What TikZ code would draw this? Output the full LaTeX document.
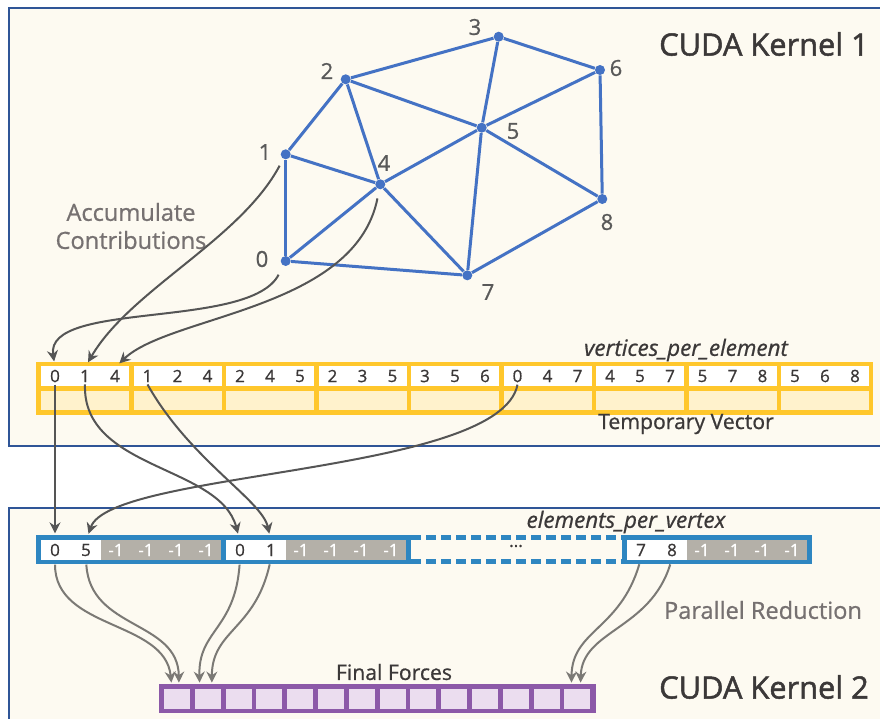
\documentclass[tikz,border=0pt]{standalone}
\usepackage{fontspec}
\setmainfont{Open Sans}[FakeBold=0.8]
\newfontfamily\kernelfont{Open Sans}[FakeBold=1.6]
\usetikzlibrary{arrows.meta}

\definecolor{kbg}{HTML}{FDFAF1}
\definecolor{kborder}{HTML}{2F5597}
\definecolor{meshblue}{HTML}{4472C4}
\definecolor{tvyellow}{HTML}{FFC72C}
\definecolor{tvlight}{HTML}{FFF2CC}
\definecolor{epvblue}{HTML}{2E86C1}
\definecolor{epvgray}{HTML}{B4B0A8}
\definecolor{ffpurple}{HTML}{8C59A8}
\definecolor{fflight}{HTML}{EBDDEF}
\definecolor{txtdark}{HTML}{3B3838}
\definecolor{txtgray}{HTML}{767171}
\definecolor{lblgray}{HTML}{595959}
\definecolor{arrdark}{HTML}{555555}
\definecolor{arrgray}{HTML}{7B7975}

\tikzset{
	vtx/.style={circle, fill=meshblue, inner sep=0pt, minimum size=5pt},
	meshedge/.style={draw=meshblue, line width=1.5pt},
	vlabel/.style={text=lblgray, font=\fontsize{11}{13}\selectfont},
	cellnum/.style={text=txtdark, font=\fontsize{8.5}{10}\selectfont, inner sep=1pt},
	negnum/.style={text=white, font=\fontsize{8.5}{10}\selectfont, inner sep=1pt},
	ffcell/.style={rectangle, fill=fflight, inner sep=0pt, minimum width=13pt, minimum height=10pt},
	kernel/.style={text=txtdark, font=\kernelfont\fontsize{15.4}{18}\selectfont},
	note/.style={text=txtgray, font=\fontsize{11.8}{14}\selectfont, align=center},
	arrname/.style={text=txtdark, font=\fontsize{11.2}{13}\selectfont\itshape},
	boxname/.style={text=txtdark, font=\fontsize{10.6}{12}\selectfont},
	accum/.style={draw=arrdark, line width=1pt, -{Stealth[length=5.5pt, width=5.5pt]}},
	reduce/.style={draw=arrgray, line width=1pt, -{Stealth[length=5.5pt, width=5.5pt]}}
}

\begin{document}
\begin{tikzpicture}[x=0.5pt, y={(0pt,-0.5pt)}]
		\useasboundingbox (0,0) rectangle (880,719);
		\clip (0,0) rectangle (880,719);

		% kernel frames
		\draw[kborder, fill=kbg, line width=1pt] (9,8) rectangle (895,446);
		\draw[kborder, fill=kbg, line width=1pt] (9,508) rectangle (895,740);
		\node[kernel] (k1) at (764,44) {CUDA Kernel 1};
		\node[kernel] (k2) at (764,687) {CUDA Kernel 2};

		% mesh
		\node[vtx] (v0) at (285.7,261) {};
		\node[vtx] (v1) at (285.7,154.3) {};
		\node[vtx] (v2) at (345.7,79.3) {};
		\node[vtx] (v3) at (498.7,36.7) {};
		\node[vtx] (v4) at (380.3,184.3) {};
		\node[vtx] (v5) at (481.7,127.7) {};
		\node[vtx] (v6) at (600,70) {};
		\node[vtx] (v7) at (467.3,275.3) {};
		\node[vtx] (v8) at (602.3,199) {};
		\foreach \a/\b in {0/1,1/2,2/3,3/6,6/8,8/7,7/0,1/4,0/4,2/4,4/5,2/5,3/5,5/6,5/8,5/7,4/7}
			\draw[meshedge] (v\a) -- (v\b);
		\node[vlabel] (l0) at (262,259) {0};
		\node[vlabel] (l1) at (265,152) {1};
		\node[vlabel] (l2) at (327,71) {2};
		\node[vlabel] (l3) at (475,27) {3};
		\node[vlabel] (l4) at (384,163) {4};
		\node[vlabel] (l5) at (513,131) {5};
		\node[vlabel] (l6) at (616,68) {6};
		\node[vlabel] (l7) at (488,292) {7};
		\node[vlabel] (l8) at (607,222) {8};
		\node[note] (acc) at (131,226) {Accumulate\\Contributions};

		% temporary vector
		\fill[tvyellow] (36,362) rectangle (873,415);
		\foreach \a/\b/\c [count=\i from 0] in {0/1/4, 1/2/4, 2/4/5, 2/3/5, 3/5/6, 0/4/7, 4/5/7, 5/7/8, 5/6/8} {
			\fill[white] ({41+92.5*\i},366) rectangle ++(88,20);
			\fill[tvlight] ({41+92.5*\i},391) rectangle ++(88,19);
			\node[cellnum] (tv\i-a) at ({55+92.5*\i},376) {\a};
			\node[cellnum] (tv\i-b) at ({85+92.5*\i},376) {\b};
			\node[cellnum] (tv\i-c) at ({115+92.5*\i},376) {\c};
		}
		\node[arrname] (tvname) at (686,350) {vertices\_per\_element};
		\node[boxname] (tvtitle) at (686,424) {Temporary Vector};

		% elements per vertex
		\fill[epvblue] (36,535) rectangle (411,564);
		\fill[epvblue] (622,535) rectangle (812,564);
		\draw[epvblue, line width=2.5pt, dash pattern=on 5pt off 2.5pt] (411,537.5) -- (622,537.5) (411,561.5) -- (622,561.5);
		\foreach \x/\p/\q/\n in {41/0/5/e0, 226/0/1/e1, 627/7/8/e8} {
			\fill[white] (\x,540) rectangle ++(60,20);
			\fill[epvgray] ({\x+60},540) rectangle ++(120,20);
			\node[cellnum] (\n-a) at ({\x+14},550) {\p};
			\node[cellnum] (\n-b) at ({\x+45},550) {\q};
			\foreach \k in {0,...,3}
				\node[negnum] (\n-m\k) at ({\x+75+30*\k},550) {-1};
		}
		\node[cellnum] (gap) at (516,546) {...};
		\node[arrname] (epvname) at (626,522) {elements\_per\_vertex};

		% final forces
		\fill[ffpurple] (159,684) rectangle (596,713);
		\foreach \i in {0,...,13}
			\node[ffcell] (ff\i) at ({177+30.8*\i},699) {};
		\node[boxname] (fftitle) at (394,672) {Final Forces};
		\node[note] (red) at (763,610) {Parallel Reduction};

		% accumulate
		\draw[accum, shorten <=3.75pt, shorten >=3pt] (v1) .. controls (240,240) and (130,290) .. (tv0-b.north);
		\draw[accum, shorten <=5pt, shorten >=3pt] (v0) .. controls (250,330) and (45,300) .. (tv0-a.north);
		\draw[accum, shorten <=4.5pt, shorten >=3pt] (v4) .. controls (355,310) and (170,315) .. (tv0-c.north);

		% scatter to elements_per_vertex
		\draw[accum, shorten >=4pt] (tv0-a.south) -- (e0-a.north);
		\draw[accum, shorten >=4pt] (tv0-b.south) .. controls (82,470) and (220,465) .. (e1-a.north);
		\draw[accum, shorten >=4pt] (tv1-a.south) .. controls (190,460) and (262,500) .. (e1-b.north);
		\draw[accum, shorten >=4pt] (tv5-a.south) .. controls (500,475) and (110,470) .. (e0-b.north);

		% reduction
		\draw[reduce, shorten <=3pt, shorten >=3pt] (e0-a.south) .. controls (55,630) and (165,620) .. ([xshift=-2.5pt]ff0.north);
		\draw[reduce, shorten <=3pt, shorten >=3pt] (e0-b.south) .. controls (90,630) and (178,620) .. ([xshift=1pt]ff0.north);
		\draw[reduce, shorten <=3pt, shorten >=3pt] (e1-a.south) .. controls (235,630) and (198,630) .. ([xshift=-4pt]ff1.north);
		\draw[reduce, shorten <=3pt, shorten >=3pt] (e1-b.south) .. controls (255,630) and (212,630) .. ([xshift=2pt]ff1.north);
		\draw[reduce, shorten <=3pt, shorten >=3pt] (e8-a.south) .. controls (620,630) and (572,630) .. ([xshift=-3pt]ff13.north);
		\draw[reduce, shorten <=3pt, shorten >=3pt] (e8-b.south) .. controls (650,630) and (582,630) .. ([xshift=1.5pt]ff13.north);
\end{tikzpicture}
\end{document}
